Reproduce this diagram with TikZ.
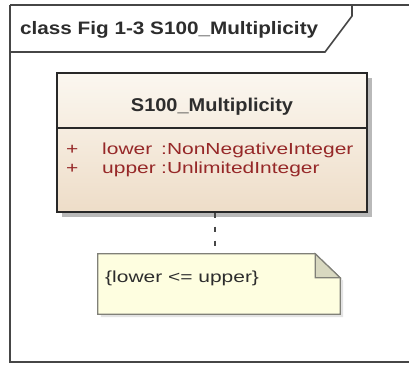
\documentclass[tikz,border=0pt]{standalone}
\usepackage{fontspec}
\setmainfont{Liberation Sans}
\newfontfamily\titlefont[FakeStretch=1.15]{Liberation Sans}
\newfontfamily\namefont[FakeStretch=1.08]{Liberation Sans}
\newfontfamily\attrfont[FakeStretch=1.31]{Liberation Sans}
\usetikzlibrary{shadows}
\definecolor{framecol}{RGB}{70,70,70}
\definecolor{titlecol}{RGB}{45,45,45}
\definecolor{classtop}{RGB}{251,247,240}
\definecolor{classbot}{RGB}{238,221,200}
\definecolor{classline}{RGB}{40,40,40}
\definecolor{attrcol}{RGB}{150,40,40}
\definecolor{notefill}{RGB}{254,254,224}
\definecolor{notefold}{RGB}{216,216,192}
\definecolor{noteline}{RGB}{128,128,120}
\definecolor{shadowcol}{RGB}{185,185,185}
\tikzset{
  txt/.style={inner sep=0pt, anchor=base west},
  titletext/.style={txt, text=titlecol, font=\titlefont\bfseries\fontsize{18}{20}\selectfont},
  nametext/.style={inner sep=0pt, anchor=base, text=titlecol, font=\namefont\bfseries\fontsize{18.5}{20}\selectfont},
  attrtext/.style={txt, text=attrcol, font=\attrfont\fontsize{16}{18}\selectfont},
  notetext/.style={txt, text=titlecol, font=\attrfont\fontsize{16}{18}\selectfont},
  classbox/.style={draw=classline, line width=1.3pt, top color=classtop, bottom color=classbot,
    minimum width=310pt, minimum height=139pt, inner sep=0pt,
    drop shadow={shadow xshift=5pt, shadow yshift=-5pt, fill=shadowcol, opacity=1}},
  notearea/.style={minimum width=242pt, minimum height=60pt, inner sep=0pt},
  notepath/.style={draw=noteline, line width=1.2pt, fill=notefill},
  foldpath/.style={draw=noteline, line width=1.2pt, fill=notefold},
  frameline/.style={draw=framecol, line width=1.6pt},
  conn/.style={draw=framecol, line width=1.5pt, dash pattern=on 5pt off 9pt},
}
\begin{document}
\begin{tikzpicture}[x=1pt, y=-1pt]
\useasboundingbox (0,0) rectangle (409,365);
\fill[white] (0,0) rectangle (409,365);
\clip (0,0) rectangle (409,365);
% frame
\draw[frameline] (10,5) -- (420,5);
\draw[frameline] (10,5) -- (10,362) -- (420,362);
\draw[frameline] (10,52) -- (325,52) -- (352,16) -- (352,5);
\node[titletext] (title) at (20,34) {class Fig 1-3 S100\_Multiplicity};
% class
\node[classbox] (cls) at (212,142.5) {};
\draw[classline, line width=1.3pt] (cls.west |- 0,128) -- (cls.east |- 0,128);
\node[nametext] (cname) at (212,111) {S100\_Multiplicity};
\node[attrtext] (p1) at (66,154) {+};
\node[attrtext] (p2) at (66,173) {+};
\node[attrtext] (a1) at (102,154) {lower};
\node[attrtext] (a2) at (102,173) {upper};
\node[attrtext] (t1) at (161,154) {:NonNegativeInteger};
\node[attrtext] (t2) at (161,173) {:UnlimitedInteger};
% note
\node[notearea] (note) at (219,284) {};
\fill[shadowcol!40] ([xshift=3pt,yshift=-3pt]note.north west) -- ([xshift=-22pt,yshift=-3pt]note.north east) -- ([xshift=3pt,yshift=-27pt]note.north east) -- ([xshift=3pt,yshift=-3pt]note.south east) -- ([xshift=3pt,yshift=-3pt]note.south west) -- cycle;
\path[notepath] (note.north west) -- ([xshift=-25pt]note.north east) -- ([yshift=-24pt]note.north east) -- (note.south east) -- (note.south west) -- cycle;
\path[foldpath] ([xshift=-25pt]note.north east) -- ([xshift=-25pt,yshift=-24pt]note.north east) -- ([yshift=-24pt]note.north east) -- cycle;
\node[notetext] (ntext) at (105,282) {\{lower <= upper\}};
% connector
\draw[conn] ([xshift=3pt]cls.south) -- ([xshift=3pt]cls.south |- note.north);
\end{tikzpicture}
\end{document}
